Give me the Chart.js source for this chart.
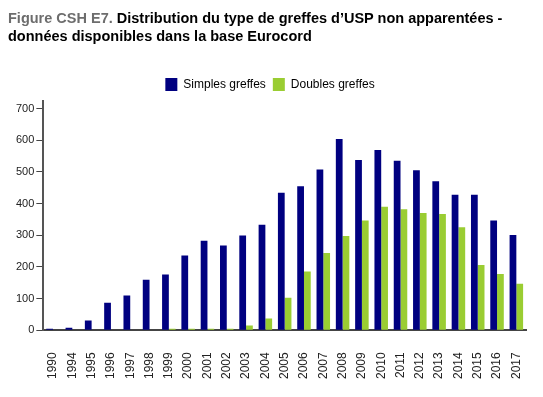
<!DOCTYPE html>
<html>
<head>
<meta charset="utf-8">
<script src="https://cdn.jsdelivr.net/npm/chart.js@4"></script>
<style>
  html, body { margin:0; padding:0; background:#fff; }
  #wrap { position:relative; width:543px; height:397px; }
  #title { position:absolute; left:8px; top:9px; font:bold 14.5px "Liberation Sans", Arial, sans-serif; line-height:18px; color:#000; }
  #title .lab { color:#6d6d6d; }
  #box { position:absolute; left:0; top:0; width:543px; height:397px; }
</style>
</head>
<body>
<div id="wrap">
  <div id="box"><canvas id="chart"></canvas></div>
  <div id="title"><span class="lab">Figure CSH E7.</span> Distribution du type de greffes d’USP non apparentées -<br>données disponibles dans la base Eurocord</div>
</div>
<script>
// values
const years = ['1990','1994','1995','1996','1997','1998','1999','2000','2001','2002','2003','2004','2005','2006',
  '2007','2008','2009','2010','2011','2012','2013','2014','2015','2016','2017'];
const simples = [5, 8, 31, 87, 110, 160, 176, 236, 283, 268, 299, 333, 434, 455,
  508, 604, 538, 569, 535, 505, 471, 428, 428, 347, 301];
const doubles = [0, 0, 0, 0, 0, 0, 5, 5, 5, 5, 15, 37, 103, 186,
  244, 298, 347, 390, 382, 370, 367, 325, 206, 178, 147];
const yTicks = [0, 100, 200, 300, 400, 500, 600, 700];

const font = { family: '"Liberation Sans", Arial, sans-serif', size: 12 };

new Chart(document.getElementById('chart'), {
  type: 'bar',
  data: {
    labels: years,
    datasets: [
      { label: 'Simples greffes', data: simples, backgroundColor: '#000080', borderWidth: 0 },
      { label: 'Doubles greffes', data: doubles, backgroundColor: '#9acd32', borderWidth: 0 }
    ]
  },
  options: {
    responsive: true,
    maintainAspectRatio: false,
    animation: false,
    layout: { padding: { top: 71, left: 14, right: 17, bottom: 16 } },
    datasets: { bar: { categoryPercentage: 0.7, barPercentage: 1.0 } },
    plugins: {
      legend: {
        position: 'top',
        labels: { font: font, color: '#000', boxWidth: 12, boxHeight: 13, padding: 7 }
      },
      tooltip: { enabled: false }
    },
    scales: {
      x: {
        // tick marks hidden, tickLength only used to push the labels down
        grid: { display: false, drawTicks: true, tickLength: 20 },
        border: { display: true, color: '#444', width: 2 },
        ticks: { font: font, color: '#222', minRotation: 90, maxRotation: 90, padding: 2, autoSkip: false }
      },
      y: {
        min: 0, max: 724,
        afterBuildTicks: s => { s.ticks = yTicks.map(v => ({ value: v })); },
        grid: { drawOnChartArea: false, drawTicks: true, tickLength: 7, color: '#444', lineWidth: 1 },
        border: { display: true, color: '#555', width: 2 },
        ticks: { font: { family: font.family, size: 11 }, color: '#222', padding: 2 }
      }
    }
  }
});
</script>
</body>
</html>
